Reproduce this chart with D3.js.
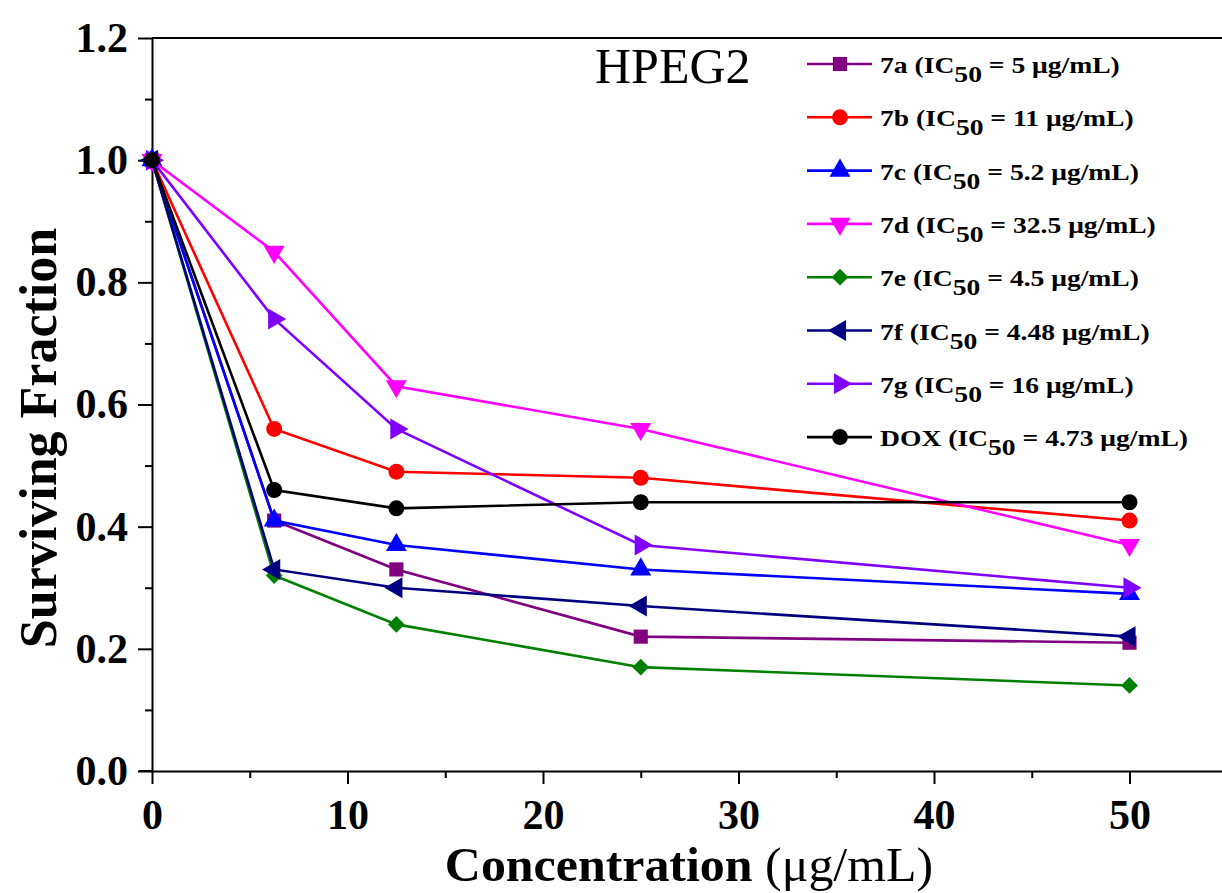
<!DOCTYPE html>
<html>
<head>
<meta charset="utf-8">
<script src="https://cdn.jsdelivr.net/npm/d3@7"></script>
<style>
  body { margin: 0; background: #fff; }
  text { font-family: 'Liberation Serif', 'Times New Roman', serif; }
</style>
</head>
<body>
<svg id="chart"></svg>
<script>
// concentrations (ug/mL) and surviving fractions
const concentrations = [0, 6.25, 12.5, 25, 50];
const compounds = ['7a', '7b', '7c', '7d', '7e', '7f', '7g', 'DOX'];
const ic50 = ['5', '11', '5.2', '32.5', '4.5', '4.48', '16', '4.73'];

const v7a = [1.0, 0.41, 0.33, 0.22, 0.21];
const v7b = [1.0, 0.56, 0.49, 0.48, 0.41];
const v7c = [1.0, 0.41, 0.37, 0.33, 0.29];
const v7d = [1.0, 0.85, 0.63, 0.56, 0.37];
const v7e = [1.0, 0.32, 0.24, 0.17, 0.14];
const v7f = [1.0, 0.33, 0.30, 0.27, 0.22];
const v7g = [1.0, 0.74, 0.56, 0.37, 0.30];
const vDOX = [1.0, 0.46, 0.43, 0.44, 0.44];
const seriesValues = [v7a, v7b, v7c, v7d, v7e, v7f, v7g, vDOX];

const xTicks = [0, 10, 20, 30, 40, 50];
const xMinor = [5, 15, 25, 35, 45];
const yTicks = [0, 0.2, 0.4, 0.6, 0.8, 1.0, 1.2];
const yMinor = [0.1, 0.3, 0.5, 0.7, 0.9, 1.1];

const colors = ['#800080', '#ff0000', '#0000ff', '#ff00ff', '#008000', '#000080', '#8000ff', '#000000'];
const shapes = ['square', 'circle', 'up', 'down', 'diamond', 'left', 'right', 'circle'];

const width = 1222,
  height = 893,
  margin = {top: 38, left: 152, bottom: 122};

const x = d3.scaleLinear()
  .domain([0, 55])
  .range([margin.left, margin.left + 55 * 19.55]);

const y = d3.scaleLinear()
  .domain([0, 1.2])
  .range([height - margin.bottom, margin.top]);

const svg = d3.select('#chart')
  .attr('width', width)
  .attr('height', height);

svg.append('rect')
  .attr('width', width)
  .attr('height', height)
  .attr('fill', '#fff');

// top frame line
svg.append('line')
  .attr('x1', x(0)).attr('x2', x(55))
  .attr('y1', y(1.2)).attr('y2', y(1.2))
  .attr('stroke', '#000')
  .attr('stroke-width', 2);

// x axis, minor then major
svg.append('g')
  .attr('transform', `translate(0,${y(0)})`)
  .call(d3.axisBottom(x).tickValues(xMinor).tickSize(7).tickSizeOuter(0).tickFormat(''))
  .call(g => g.select('.domain').remove());

const xAxis = svg.append('g')
  .attr('transform', `translate(0,${y(0)})`)
  .call(d3.axisBottom(x).tickValues(xTicks).tickSize(13).tickSizeOuter(0).tickPadding(15));

svg.append('line')
  .attr('x1', x(0) - 13).attr('x2', x(0))
  .attr('y1', y(0)).attr('y2', y(0))
  .attr('stroke', '#000')
  .attr('stroke-width', 2);

// y axis
svg.append('g')
  .attr('transform', `translate(${x(0)},0)`)
  .call(d3.axisLeft(y).tickValues(yMinor).tickSize(7).tickSizeOuter(0).tickFormat(''))
  .call(g => g.select('.domain').remove());

const yAxis = svg.append('g')
  .attr('transform', `translate(${x(0)},0)`)
  .call(d3.axisLeft(y).tickValues(yTicks).tickSize(14).tickSizeOuter(0).tickPadding(10)
    .tickFormat(d3.format('.1f')));

svg.selectAll('.tick line, .domain')
  .attr('stroke', '#000')
  .attr('stroke-width', 2);

xAxis.selectAll('text')
  .attr('font-size', 42)
  .attr('font-weight', 'bold')
  .attr('fill', '#000')
  .style('font-family', "'Liberation Serif', serif");

yAxis.selectAll('text')
  .attr('font-size', 42)
  .attr('font-weight', 'bold')
  .attr('fill', '#000')
  .style('font-family', "'Liberation Serif', serif");

// axis titles
svg.append('text')
  .attr('transform', `translate(56,438) rotate(-90)`)
  .attr('text-anchor', 'middle')
  .attr('font-size', 52)
  .attr('font-weight', 'bold')
  .text('Surviving Fraction');

const xTitle = svg.append('text')
  .attr('transform', 'translate(689,881) scale(1.04,1)')
  .attr('text-anchor', 'middle')
  .attr('font-size', 48);
xTitle.append('tspan').attr('font-weight', 'bold').text('Concentration ');
xTitle.append('tspan').text('(μg/mL)');

svg.append('text')
  .attr('x', 595)
  .attr('y', 83)
  .attr('font-size', 50)
  .text('HPEG2');

// marker shapes
function marker(sel, shape, color) {
  let type = d3.symbolTriangle, size = 190, rot = 0;
  if (shape === 'square') { type = d3.symbolSquare; size = 200; }
  if (shape === 'circle') { type = d3.symbolCircle; size = 200; }
  if (shape === 'diamond') { type = d3.symbolSquare; size = 140; rot = 45; }
  if (shape === 'down') rot = 180;
  if (shape === 'left') rot = -90;
  if (shape === 'right') rot = 90;
  sel.append('path')
    .attr('d', d3.symbol().type(type).size(size)())
    .attr('transform', `rotate(${rot})`)
    .attr('fill', color);
}

const line = d3.line()
  .x((d, i) => x(concentrations[i]))
  .y(d => y(d));

seriesValues.forEach((vals, k) => {
  svg.append('path')
    .datum(vals)
    .attr('d', line)
    .attr('fill', 'none')
    .attr('stroke', colors[k])
    .attr('stroke-width', 2.6);

  vals.forEach((v, i) => {
    const g = svg.append('g')
      .attr('transform', `translate(${x(concentrations[i])},${y(v)})`);
    marker(g, shapes[k], colors[k]);
  });
});

// legend
const legend = svg.append('g');
compounds.forEach((name, k) => {
  const ly = 64 + k * 53.3;
  legend.append('line')
    .attr('x1', 807).attr('x2', 872)
    .attr('y1', ly).attr('y2', ly)
    .attr('stroke', colors[k])
    .attr('stroke-width', 2.6);
  const g = legend.append('g').attr('transform', `translate(840,${ly})`);
  marker(g, shapes[k], colors[k]);

  const t = legend.append('text')
    .attr('transform', `translate(880,${ly + 9}) scale(1.2,1)`)
    .attr('font-size', 23)
    .attr('font-weight', 'bold');
  t.append('tspan').text(`${name} (IC`);
  t.append('tspan').attr('dy', 9).text('50');
  t.append('tspan').attr('dy', -9).text(` = ${ic50[k]} μg/mL)`);
});
</script>
</body>
</html>
